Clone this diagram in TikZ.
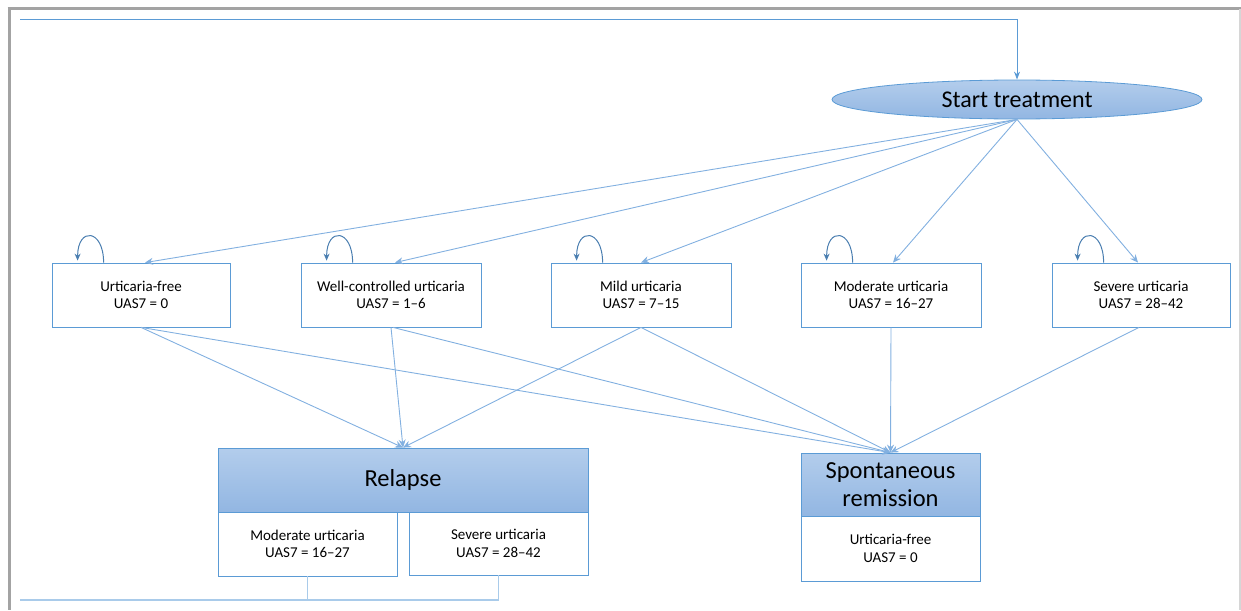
\documentclass[tikz,border=0pt]{standalone}
\usepackage{fontspec}
\setmainfont{Carlito}
\usetikzlibrary{arrows.meta,shapes.geometric,calc}
\definecolor{bd}{HTML}{5B9BD5}
\definecolor{ln}{HTML}{82B0E0}
\definecolor{lp}{HTML}{4A7EB0}
\definecolor{ftop}{HTML}{B3CDEC}
\definecolor{fbot}{HTML}{92B6E2}
\definecolor{fr}{HTML}{A3A3A3}
\definecolor{fr2}{HTML}{D6D6D6}
\definecolor{bl}{HTML}{A9CBEA}
\begin{document}
\begin{tikzpicture}[x=1pt,y=-1pt,
  state/.style={draw=bd, line width=0.8pt, fill=white, minimum height=64pt,
    align=center, font=\fontsize{15}{17.5}\selectfont, inner sep=0pt},
  head/.style={draw=bd, line width=0.8pt, top color=ftop, bottom color=fbot,
    align=center, font=\fontsize{24.5}{28}\selectfont, inner sep=0pt},
  arr/.style={draw=ln, line width=0.9pt, -{Stealth[length=8pt,width=7pt]}},
  selfloop/.style={draw=lp, line width=1pt, -{Stealth[length=7pt,width=6pt]}},
  back/.style={draw=bl, line width=1.6pt}
]
\useasboundingbox (0,0) rectangle (1241,610);
% frame
\draw[fr, line width=3pt] (7.5,8.5) -- (1241,8.5);
\draw[fr, line width=3pt] (9,8) -- (9,610);
\draw[fr2, line width=1.5pt] (1240,9) -- (1240,610);

% start
\node[ellipse, draw=bd, line width=0.8pt, top color=ftop, bottom color=fbot,
  minimum width=370pt, minimum height=39pt, inner sep=0pt,
  font=\fontsize{24}{26}\selectfont] (st) at (1017,99.5) {Start treatment};

% states
\node[state, minimum width=178pt] (uf) at (141,295) {Urticaria-free\\UAS7 = 0};
\node[state, minimum width=180pt] (wc) at (391,295) {Well-controlled urticaria\\UAS7 = 1--6};
\node[state, minimum width=180pt] (mi) at (641,295) {Mild urticaria\\UAS7 = 7--15};
\node[state, minimum width=180pt] (mo) at (891,295) {Moderate urticaria\\UAS7 = 16--27};
\node[state, minimum width=178pt] (se) at (1141,295) {Severe urticaria\\UAS7 = 28--42};

% relapse
\node[head, minimum width=370pt, minimum height=64pt] (rel) at (403,480) {Relapse};
\node[state, minimum width=179pt] (rm) at (307.5,544) {Moderate urticaria\\UAS7 = 16--27};
\node[state, minimum width=179pt, minimum height=63pt] (rs) at (498.5,543.5) {Severe urticaria\\UAS7 = 28--42};

% spontaneous remission
\node[head, minimum width=179pt, minimum height=63pt] (sr) at (890.5,484.5) {Spontaneous\\remission};
\node[state, minimum width=179pt, minimum height=65pt] (sf) at (890.5,548.5) {Urticaria-free\\UAS7 = 0};

% top feedback
\coordinate (tl) at (20,20);
\draw[draw=bd, line width=1pt, -{Stealth[length=8pt,width=6pt]}] (tl) -| (st.north);

% from start
\draw[arr] (st.south) -- ($(uf.north)+(4,0)$);
\draw[arr] (st.south) -- ($(wc.north)+(4,0)$);
\draw[arr] (st.south) -- (mi.north);
\draw[arr] (st.south) -- ($(mo.north)+(2,0)$);
\draw[arr] (st.south) -- ($(se.north)+(-3,0)$);

% self loops
\foreach \n in {uf,wc,mi,mo,se}{
  \draw[selfloop] ($(\n.north west)+(52,0)$) .. controls +(0,-34) and +(0,-34) .. ($(\n.north west)+(26,-2)$);
}

% to relapse
\draw[arr] (uf.south) -- (rel.north);
\draw[arr] (wc.south) -- (rel.north);
\draw[arr] (mi.south) -- (rel.north);

% to spontaneous remission
\draw[arr] (uf.south) -- (sr.north);
\draw[arr] ($(wc.south)+(2,0)$) -- (sr.north);
\draw[arr] (mi.south) -- (sr.north);
\draw[arr] (mo.south) -- (sr.north);
\draw[arr] ($(se.south)+(-2,0)$) -- (sr.north);

% back to start
\coordinate (bl) at (20,600);
\draw[back] (rm.south) |- (bl);
\draw[back] (rs.south) |- (rm.south |- bl);
\end{tikzpicture}
\end{document}
